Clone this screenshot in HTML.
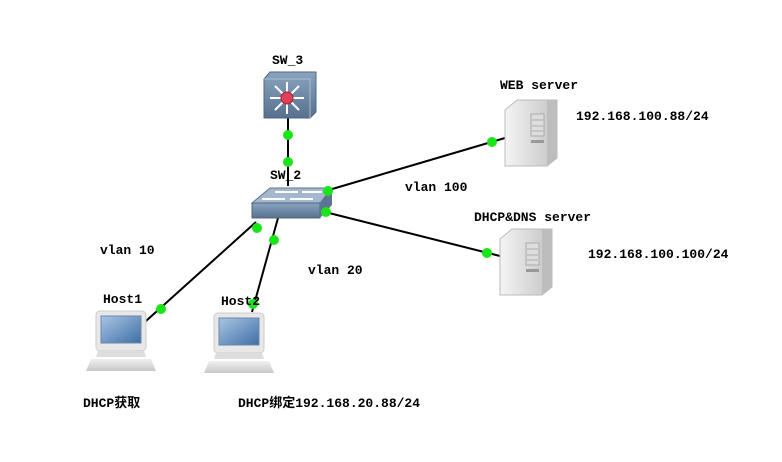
<!DOCTYPE html>
<html><head><meta charset="utf-8"><style>
html,body{margin:0;padding:0;background:#fff;}
svg text{font-family:"Liberation Mono","Noto Sans CJK SC",monospace;font-weight:bold;font-size:13px;fill:#000;}
</style></head><body>
<svg width="782" height="457" viewBox="0 0 782 457" xmlns="http://www.w3.org/2000/svg">
<defs>
<linearGradient id="blue" x1="0" y1="0" x2="0" y2="1"><stop offset="0" stop-color="#8aa4bf"/><stop offset="1" stop-color="#56708e"/></linearGradient>
<linearGradient id="srv" x1="0" y1="0" x2="1" y2="0"><stop offset="0" stop-color="#f4f4f4"/><stop offset="1" stop-color="#c4c4c4"/></linearGradient>
<linearGradient id="scr" x1="0" y1="0" x2="1" y2="1"><stop offset="0" stop-color="#a9c6e4"/><stop offset="1" stop-color="#3f6ea5"/></linearGradient>
<linearGradient id="base" x1="0" y1="0" x2="0" y2="1"><stop offset="0" stop-color="#f0f0f0"/><stop offset="1" stop-color="#c8c8c8"/></linearGradient>
<g id="host">
<rect x="0" y="0" width="50" height="40" rx="4" fill="#e8e8e8" stroke="#ccc"/>
<rect x="5" y="5" width="40" height="27" fill="url(#scr)" stroke="#6b88aa"/>
<path d="M2 40 L48 40 L50 46 L0 46 Z" fill="#ddd"/>
<path d="M-5 48 L55 48 L60 60 L-10 60 Z" fill="url(#base)"/>
</g>
<g id="server">
<path d="M0 10 L12 0 L52 0 L52 58 L42 66 L0 66 Z" fill="url(#srv)" stroke="#bbb"/>
<path d="M42 0 L52 0 L52 58 L42 66 Z" fill="#bdbdbd"/>
<rect x="26" y="14" width="13" height="22" fill="#ddd" stroke="#aaa"/>
<line x1="27" y1="20" x2="38" y2="20" stroke="#aaa"/><line x1="27" y1="26" x2="38" y2="26" stroke="#aaa"/><line x1="27" y1="31" x2="38" y2="31" stroke="#aaa"/>
<rect x="26" y="40" width="13" height="3" fill="#999"/>
</g>
</defs>
<g stroke="#000" stroke-width="2">
<line x1="288" y1="118" x2="288" y2="186"/>
<line x1="322" y1="192" x2="505" y2="138"/>
<line x1="325" y1="212" x2="500" y2="256"/>
<line x1="256" y1="222" x2="146" y2="321"/>
<line x1="278" y1="218" x2="252" y2="312"/>
</g>
<!-- SW_3 -->
<path d="M264 79 L270 72 L316 72 L316 112 L310 118 L264 118 Z" fill="url(#blue)" stroke="#4f6784"/>
<path d="M264 79 L310 79 L310 118" fill="none" stroke="#a8bdd3"/>
<g stroke="#fff" stroke-width="2">
<line x1="270" y1="98" x2="304" y2="98"/><line x1="287" y1="82" x2="287" y2="114"/>
<line x1="275" y1="86" x2="299" y2="110"/><line x1="299" y1="86" x2="275" y2="110"/>
</g>
<circle cx="287" cy="98" r="6" fill="#e04058" stroke="#a02030"/>
<!-- SW_2 -->
<path d="M252 203 L270 188 L332 188 L320 203 Z" fill="#a5b7cc" stroke="#5d7590"/>
<path d="M252 203 L320 203 L320 218 L252 218 Z" fill="url(#blue)" stroke="#4f6784"/>
<path d="M320 203 L332 188 L332 205 L320 218 Z" fill="#5b7592"/>
<g stroke="#fff" stroke-width="2"><line x1="275" y1="192" x2="298" y2="192"/><line x1="302" y1="192" x2="322" y2="192"/><line x1="262" y1="199" x2="285" y2="199"/><line x1="290" y1="199" x2="313" y2="199"/></g>
<use href="#server" x="505" y="100"/>
<use href="#server" x="500" y="229"/>
<use href="#host" x="96" y="311"/>
<use href="#host" x="214" y="313"/>
<g fill="#19e619">
<circle cx="288" cy="135" r="5"/><circle cx="288" cy="162" r="5"/>
<circle cx="328" cy="191" r="5"/><circle cx="492" cy="142" r="5"/>
<circle cx="326" cy="212" r="5"/><circle cx="487" cy="253" r="5"/>
<circle cx="257" cy="228" r="5"/><circle cx="161" cy="309" r="5"/>
<circle cx="274" cy="240" r="5"/><circle cx="253" cy="304" r="5"/>
</g>
<text x="272" y="64">SW_3</text>
<text x="270" y="179">SW_2</text>
<text x="500" y="89">WEB server</text>
<text x="576" y="120">192.168.100.88/24</text>
<text x="405" y="191">vlan 100</text>
<text x="474" y="221">DHCP&amp;DNS server</text>
<text x="588" y="258">192.168.100.100/24</text>
<text x="100" y="254">vlan 10</text>
<text x="308" y="274">vlan 20</text>
<text x="103" y="303">Host1</text>
<text x="221" y="305">Host2</text>
<text x="83" y="407">DHCP获取</text>
<text x="238" y="407">DHCP绑定192.168.20.88/24</text>
</svg>
</body></html>
